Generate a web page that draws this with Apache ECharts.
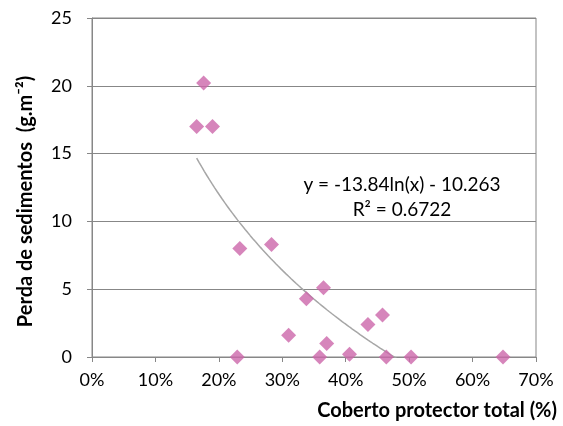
<!DOCTYPE html>
<html>
<head>
<meta charset="utf-8">
<script src="https://cdn.jsdelivr.net/npm/echarts@6/dist/echarts.min.js"></script>
<style>
  html, body { margin: 0; padding: 0; background: #fff; }
  #chart { width: 563px; height: 426px; }
</style>
</head>
<body>
<div id="chart"></div>
<script>
// Protective cover (fraction) and sediment loss (g.m-2) per plot
const coverFraction = [0.176, 0.165, 0.190, 0.233, 0.283, 0.365, 0.338, 0.458, 0.435, 0.310, 0.370, 0.406, 0.229, 0.359, 0.464, 0.503, 0.648];
const sedimentLoss  = [20.2, 17.0, 17.0, 8.0, 8.3, 5.1, 4.3, 3.1, 2.4, 1.6, 1.0, 0.2, 0.0, 0.0, 0.0, 0.0, 0.0];

// Logarithmic trend line coefficients: y = a ln(x) + b
const trendA = -13.84;
const trendB = -10.263;
const trendR2 = 0.6722;

const xTicks = [0, 0.1, 0.2, 0.3, 0.4, 0.5, 0.6, 0.7];
const yTicks = [0, 5, 10, 15, 20, 25];

const points = coverFraction.map((x, i) => [x, sedimentLoss[i]]);

// Sample the trend curve over the observed cover range
const xMin = Math.min(...coverFraction);
const xMax = Math.max(...coverFraction);
const trendPoints = [];
for (let i = 0; i <= 120; i++) {
  const x = xMin + (xMax - xMin) * i / 120;
  trendPoints.push([x, trendA * Math.log(x) + trendB]);
}

const FONT = 'Lato, "Open Sans", sans-serif';
const gridColor = '#878787';

const chart = echarts.init(document.getElementById('chart'), null, { renderer: 'canvas' });
chart.setOption({
  animation: false,
  backgroundColor: '#ffffff',
  grid: {
    left: 92, right: 27, top: 18, bottom: 69,
    show: true, borderColor: gridColor, borderWidth: 1
  },
  xAxis: {
    type: 'value',
    min: xTicks[0], max: xTicks[xTicks.length - 1], interval: 0.1,
    axisLine: { show: true, lineStyle: { color: gridColor, width: 1 } },
    axisTick: { show: true, inside: false, length: 5, lineStyle: { color: gridColor } },
    splitLine: { show: false },
    axisLabel: {
      margin: 14, color: '#000', fontFamily: FONT, fontSize: 18,
      formatter: v => Math.round(v * 100) + '%'
    }
  },
  yAxis: {
    type: 'value',
    min: yTicks[0], max: yTicks[yTicks.length - 1], interval: 5,
    name: 'Perda de sedimentos  (g.m⁻²)',
    nameLocation: 'middle', nameRotate: 90, nameGap: 56,
    nameTextStyle: { color: '#000', fontFamily: FONT, fontSize: 20, fontWeight: 'bold', padding: [0, 0, 0, -28] },
    axisLine: { show: true, lineStyle: { color: gridColor, width: 1 } },
    axisTick: { show: true, inside: false, length: 5, lineStyle: { color: gridColor } },
    splitLine: { show: true, lineStyle: { color: gridColor, width: 1 } },
    axisLabel: { margin: 20, color: '#000', fontFamily: FONT, fontSize: 18 }
  },
  graphic: [
    {
      type: 'text', x: 557, y: 411,
      style: { text: 'Coberto protector total (%)', fill: '#000', font: 'bold 20px ' + FONT, align: 'right', verticalAlign: 'middle' }
    },
    {
      type: 'text', x: 402, y: 185,
      style: { text: 'y = ' + trendA.toFixed(2) + 'ln(x) - ' + Math.abs(trendB).toFixed(3), fill: '#000', font: '19px ' + FONT, align: 'center', verticalAlign: 'middle' }
    },
    {
      type: 'text', x: 402, y: 210,
      style: { text: 'R² = ' + trendR2.toFixed(4), fill: '#000', font: '19px ' + FONT, align: 'center', verticalAlign: 'middle' }
    }
  ],
  series: [
    {
      type: 'line',
      data: trendPoints,
      showSymbol: false,
      smooth: false,
      clip: true,
      silent: true,
      lineStyle: { color: '#A6A6A6', width: 1.5 },
      z: 2
    },
    {
      type: 'scatter',
      data: points,
      symbol: 'diamond',
      symbolSize: 15,
      itemStyle: { color: '#CC66AA' },
      z: 3
    }
  ]
});
</script>
</body>
</html>
